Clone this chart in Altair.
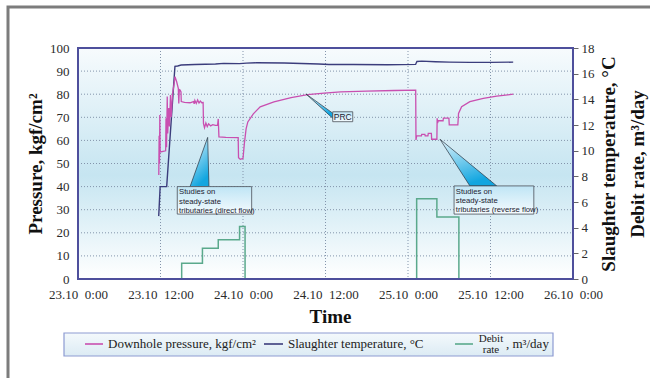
import altair as alt
import pandas as pd

# ---------------- data (hours since 23.10 0:00) ----------------
pressure_hours = [11.75, 11.8, 11.85, 11.9, 11.95, 12.0, 12.75, 12.8, 12.88, 12.98, 13.05, 13.2, 13.3,
                  13.45, 13.55, 13.75, 14.0, 14.11, 14.35, 14.59, 14.66, 14.74, 14.84, 14.98, 15.02,
                  15.5, 16.3, 16.8, 16.9, 17.0, 17.2, 17.4, 17.6, 17.8, 18.0, 18.2, 18.25, 18.4, 18.6,
                  18.8, 19.0, 19.3, 19.6, 20.0, 20.3, 20.4, 20.5, 21.5, 23.3, 23.35, 23.6, 24.0, 24.2,
                  24.45, 24.7, 25.5, 26.5, 28.5, 31.0, 33.4, 35.8, 38.2, 42.0, 46.0, 49.12, 49.16,
                  49.26, 49.95, 50.0, 50.45, 50.5, 50.9, 50.95, 51.4, 51.44, 52.2, 52.24, 52.3, 52.4,
                  53.1, 53.15, 53.95, 54.0, 55.25, 55.35, 55.8, 57.0, 58.95, 60.9, 63.3]
pressure_values = [45.0, 62.0, 50.0, 71.0, 56.0, 55.0, 55.5, 69.6, 57.0, 79.0, 63.0, 74.0, 66.0,
                   79.6, 70.0, 80.0, 85.0, 87.6, 85.4, 82.5, 76.0, 82.0, 81.8, 81.0, 76.8,
                   76.5, 76.3, 76.8, 75.8, 77.3, 76.0, 77.5, 76.2, 77.0, 76.3, 76.4, 67.4, 65.5, 67.5,
                   66.0, 67.2, 66.3, 66.8, 66.5, 66.5, 69.3, 61.5, 61.3, 61.2, 52.5, 51.8, 52.2, 58.7,
                   65.0, 68.0, 71.5, 74.5, 76.7, 78.5, 79.8, 80.5, 81.0, 81.3, 81.6, 81.8, 60.2,
                   62.0, 62.0, 62.6, 62.6, 62.0, 62.0, 63.0, 63.0, 60.5, 60.5, 69.6, 67.5, 68.5,
                   68.5, 69.6, 69.6, 66.7, 66.7, 71.7, 74.6, 76.8, 78.2, 79.2, 80.0]

temp_hours = [11.74, 11.95, 12.9, 14.1, 14.5, 15.0, 17.0, 20.0, 21.2, 23.5, 24.5, 26.0, 30.0,
              35.0, 36.5, 40.0, 45.0, 49.1, 49.3, 50.0, 52.0, 54.0, 57.0, 60.0, 63.3]
temp_values = [4.9, 7.2, 7.2, 16.57, 16.6, 16.67, 16.72, 16.75, 16.8, 16.78, 16.82, 16.85, 16.83,
               16.75, 16.72, 16.72, 16.7, 16.72, 16.95, 16.98, 16.93, 16.9, 16.88, 16.88, 16.9]

debit_run = [1, 1, 1, 1, 1, 1, 2, 2, 2, 2]
debit_hours = [15.08, 15.08, 18.1, 20.4, 23.5, 24.3, 49.26, 49.26, 52.2, 55.4]
debit_values = [0, 1.23, 2.4, 3.05, 4.1, 0, 0, 6.26, 4.83, 0]

tick_hours = [0, 12, 24, 36, 48, 60, 72]
pressure_ticks = list(range(0, 101, 10))
right_ticks = list(range(0, 19, 2))

callout_texts = ["Studies on\nsteady-state\ntributaries (direct flow)",
                 "Studies on\nsteady-state\ntributaries (reverse flow)",
                 "PRC"]

# ---------------- tables ----------------
pressure_df = pd.DataFrame({"h": pressure_hours, "v": pressure_values})
temp_df = pd.DataFrame({"h": temp_hours, "v": temp_values})
debit_df = pd.DataFrame({"run": debit_run, "h": debit_hours, "v": debit_values})
hgrid_df = pd.DataFrame({"v": pressure_ticks[1:-1]})
vgrid_df = pd.DataFrame({"h": tick_hours[1:-1]})

# annotation geometry (in data units: hours / pressure)
wedge_df = pd.DataFrame({
    "id": [1, 1, 1, 2, 2, 2, 3, 3],
    "h": [16.3, 18.86, 19.05, 52.65, 57.0, 60.9, 33.16, 37.05],
    "pa": [40.0, 61.3, 40.0, 60.5, 49.85, 40.3, 80.1, 71.8],
    "pb": [40.0, 40.0, 40.0, 60.5, 40.3, 40.3, 80.1, 69.6],
})
box_df = pd.DataFrame({
    "h": [14.44, 54.7, 37.05], "h2": [25.26, 66.3, 39.96],
    "p": [40.0, 40.3, 72.4], "p2": [28.1, 28.1, 68.1],
})
text_df = pd.DataFrame({"h": [14.7, 54.95], "p": [39.3, 39.6], "t": callout_texts[:2]})
prc_df = pd.DataFrame({"h": [38.5], "p": [70.25], "t": [callout_texts[2]]})

W, H = 495, 231
SERIF = "Liberation Serif"
SANS = "Liberation Sans"
one = alt.Data(values=[{"k": 0}])

xs = alt.Scale(domain=[0, 72], nice=False, zero=False)
xaxis = alt.Axis(
    values=tick_hours, grid=False, ticks=False, domain=False,
    labelExpr="(23 + floor(datum.value / 24)) + '.10\u00a0\u00a0' + (datum.value % 24 == 0 ? '0:00' : '12:00')",
    labelFont=SERIF, labelFontSize=13, labelColor="#2a2a2a", labelPadding=9,
    labelOverlap=False, labelFlush=False,
    title="Time", titleFont=SERIF, titleFontSize=19, titleFontWeight="bold", titleColor="#111",
    titleX=252, titleY=37, titleAlign="center", titleBaseline="middle",
)


def X(field="h"):
    return alt.X(f"{field}:Q", scale=xs, axis=xaxis)


ps = alt.Scale(domain=[0, 100], nice=False, zero=False)
rs = alt.Scale(domain=[0, 18], nice=False, zero=False)

left_axis = alt.Axis(
    values=pressure_ticks, grid=False, ticks=False, domain=False,
    labelFont=SERIF, labelFontSize=13, labelColor="#2a2a2a", labelPadding=9,
    title="Pressure, kgf/cm²", titleFont=SERIF, titleFontSize=19, titleFontWeight="bold",
    titleColor="#111", titleAngle=270, titleX=-43, titleY=115.5,
    titleAlign="center", titleBaseline="middle",
)
right_axis = alt.Axis(
    orient="right", values=right_ticks, grid=False, ticks=True, tickSize=5, tickColor="#666",
    domain=False, labelFont=SERIF, labelFontSize=13, labelColor="#2a2a2a", labelPadding=3,
    title=["Slaughter temperature, °C", "Debit rate, m³/day"], titleFont=SERIF, titleFontSize=19,
    titleFontWeight="bold", titleColor="#111", titleAngle=270, titleX=35, titleY=115.5,
    titleAlign="center", titleBaseline="middle", titleLineHeight=29,
)

# ---------------- layers ----------------
frame = alt.Chart(one).mark_rect(fillOpacity=0, stroke="#7c7c7c", strokeWidth=3).encode(
    x=alt.value(-70), x2=alt.value(700), y=alt.value(-41), y2=alt.value(400))

bg = alt.Chart(one).mark_rect(fill={
    "gradient": "linear", "x1": 0, "y1": 0, "x2": 0, "y2": 1,
    "stops": [{"offset": 0, "color": "#f7fbfd"}, {"offset": 0.55, "color": "#c6e5f1"},
              {"offset": 1, "color": "#ffffff"}]}).encode(
    x=alt.value(0), x2=alt.value(W), y=alt.value(0), y2=alt.value(H))

hgrid = alt.Chart(hgrid_df).mark_rule(color="#8394ab", strokeDash=[1, 2], strokeWidth=1).encode(
    x=alt.value(0), x2=alt.value(W), y=alt.Y("v:Q", scale=ps, axis=None))
vgrid = alt.Chart(vgrid_df).mark_rule(color="#8394ab", strokeDash=[1, 2], strokeWidth=1).encode(
    x=X(), y=alt.value(0), y2=alt.value(H))

debit = alt.Chart(debit_df).mark_line(color="#5aa98c", strokeWidth=1.5, interpolate="step-after").encode(
    x=X(), y=alt.Y("v:Q", scale=rs, axis=None), detail="run:N")
temp = alt.Chart(temp_df).mark_line(color="#3b3d7c", strokeWidth=1.4).encode(
    x=X(), y=alt.Y("v:Q", scale=rs, axis=right_axis))
pressure = alt.Chart(pressure_df).mark_line(color="#c94fb0", strokeWidth=1.3).encode(
    x=X(), y=alt.Y("v:Q", scale=ps, axis=left_axis))

border = alt.Chart(one).mark_rect(fillOpacity=0, stroke="#4e4f9c", strokeWidth=2).encode(
    x=alt.value(0), x2=alt.value(W), y=alt.value(0), y2=alt.value(H))

wedges = alt.Chart(wedge_df).mark_area(
    stroke="#2a3440", strokeWidth=0.7,
    fill={"gradient": "linear", "x1": 0, "y1": 0, "x2": 0.4, "y2": 1,
          "stops": [{"offset": 0, "color": "#e4f5fc"}, {"offset": 1, "color": "#12a6e0"}]}).encode(
    x=X(), y=alt.Y("pa:Q", scale=ps, axis=None), y2="pb:Q", detail="id:N")

boxes = alt.Chart(box_df).mark_rect(
    stroke="#4a4f58", strokeWidth=0.8,
    fill={"gradient": "linear", "x1": 0, "y1": 0, "x2": 0, "y2": 1,
          "stops": [{"offset": 0, "color": "#bfe5f5"}, {"offset": 1, "color": "#f5fbfe"}]}).encode(
    x=X(), x2="h2:Q", y=alt.Y("p:Q", scale=ps, axis=None), y2="p2:Q")

texts = alt.Chart(text_df).mark_text(
    align="left", baseline="top", font=SANS, fontSize=7.7, lineHeight=9.3, lineBreak="\n",
    color="#1c2230").encode(x=X(), y=alt.Y("p:Q", scale=ps, axis=None), text="t:N")
prc = alt.Chart(prc_df).mark_text(
    align="center", baseline="middle", font=SANS, fontSize=8.5, color="#1c2230").encode(
    x=X(), y=alt.Y("p:Q", scale=ps, axis=None), text="t:N")

# legend (manual)
leg_box = alt.Chart(one).mark_rect(
    stroke="#8d9bd2", strokeWidth=1.2,
    fill={"gradient": "linear", "x1": 0, "y1": 0, "x2": 0, "y2": 1,
          "stops": [{"offset": 0, "color": "#f4f9fc"}, {"offset": 1, "color": "#dcebf4"}]}).encode(
    x=alt.value(-14), x2=alt.value(475), y=alt.value(285), y2=alt.value(308))


def leg_line(x1, x2, color):
    return alt.Chart(one).mark_rule(color=color, strokeWidth=1.6).encode(
        x=alt.value(x1), x2=alt.value(x2), y=alt.value(296))


def leg_text(x, y, s, size=13, align="left"):
    return alt.Chart(one).mark_text(align=align, baseline="middle", font=SERIF, fontSize=size,
                                    color="#222").encode(x=alt.value(x), y=alt.value(y), text=alt.value(s))


legend = [
    leg_box,
    leg_line(7, 25, "#c94fb0"), leg_text(30, 296, "Downhole pressure, kgf/cm²"),
    leg_line(186, 205, "#3b3d7c"), leg_text(210, 296, "Slaughter temperature, °C"),
    leg_line(377, 395, "#5aa98c"),
    leg_text(413, 290.5, "Debit", 11, "center"), leg_text(413, 302, "rate", 11, "center"),
    leg_text(428, 296, ", m³/day"),
]

chart = alt.layer(
    frame, bg, hgrid, vgrid, debit, temp, pressure, border, wedges, boxes, texts, prc, *legend
).resolve_scale(y="independent").properties(
    width=W, height=H,
    padding={"left": 78, "top": 48, "right": 77, "bottom": 99},
    autosize=alt.AutoSizeParams(type="none"),
    background="white",
).configure_view(strokeWidth=0)

chart.save("out.html", embed_options={"renderer": "svg", "actions": False})
